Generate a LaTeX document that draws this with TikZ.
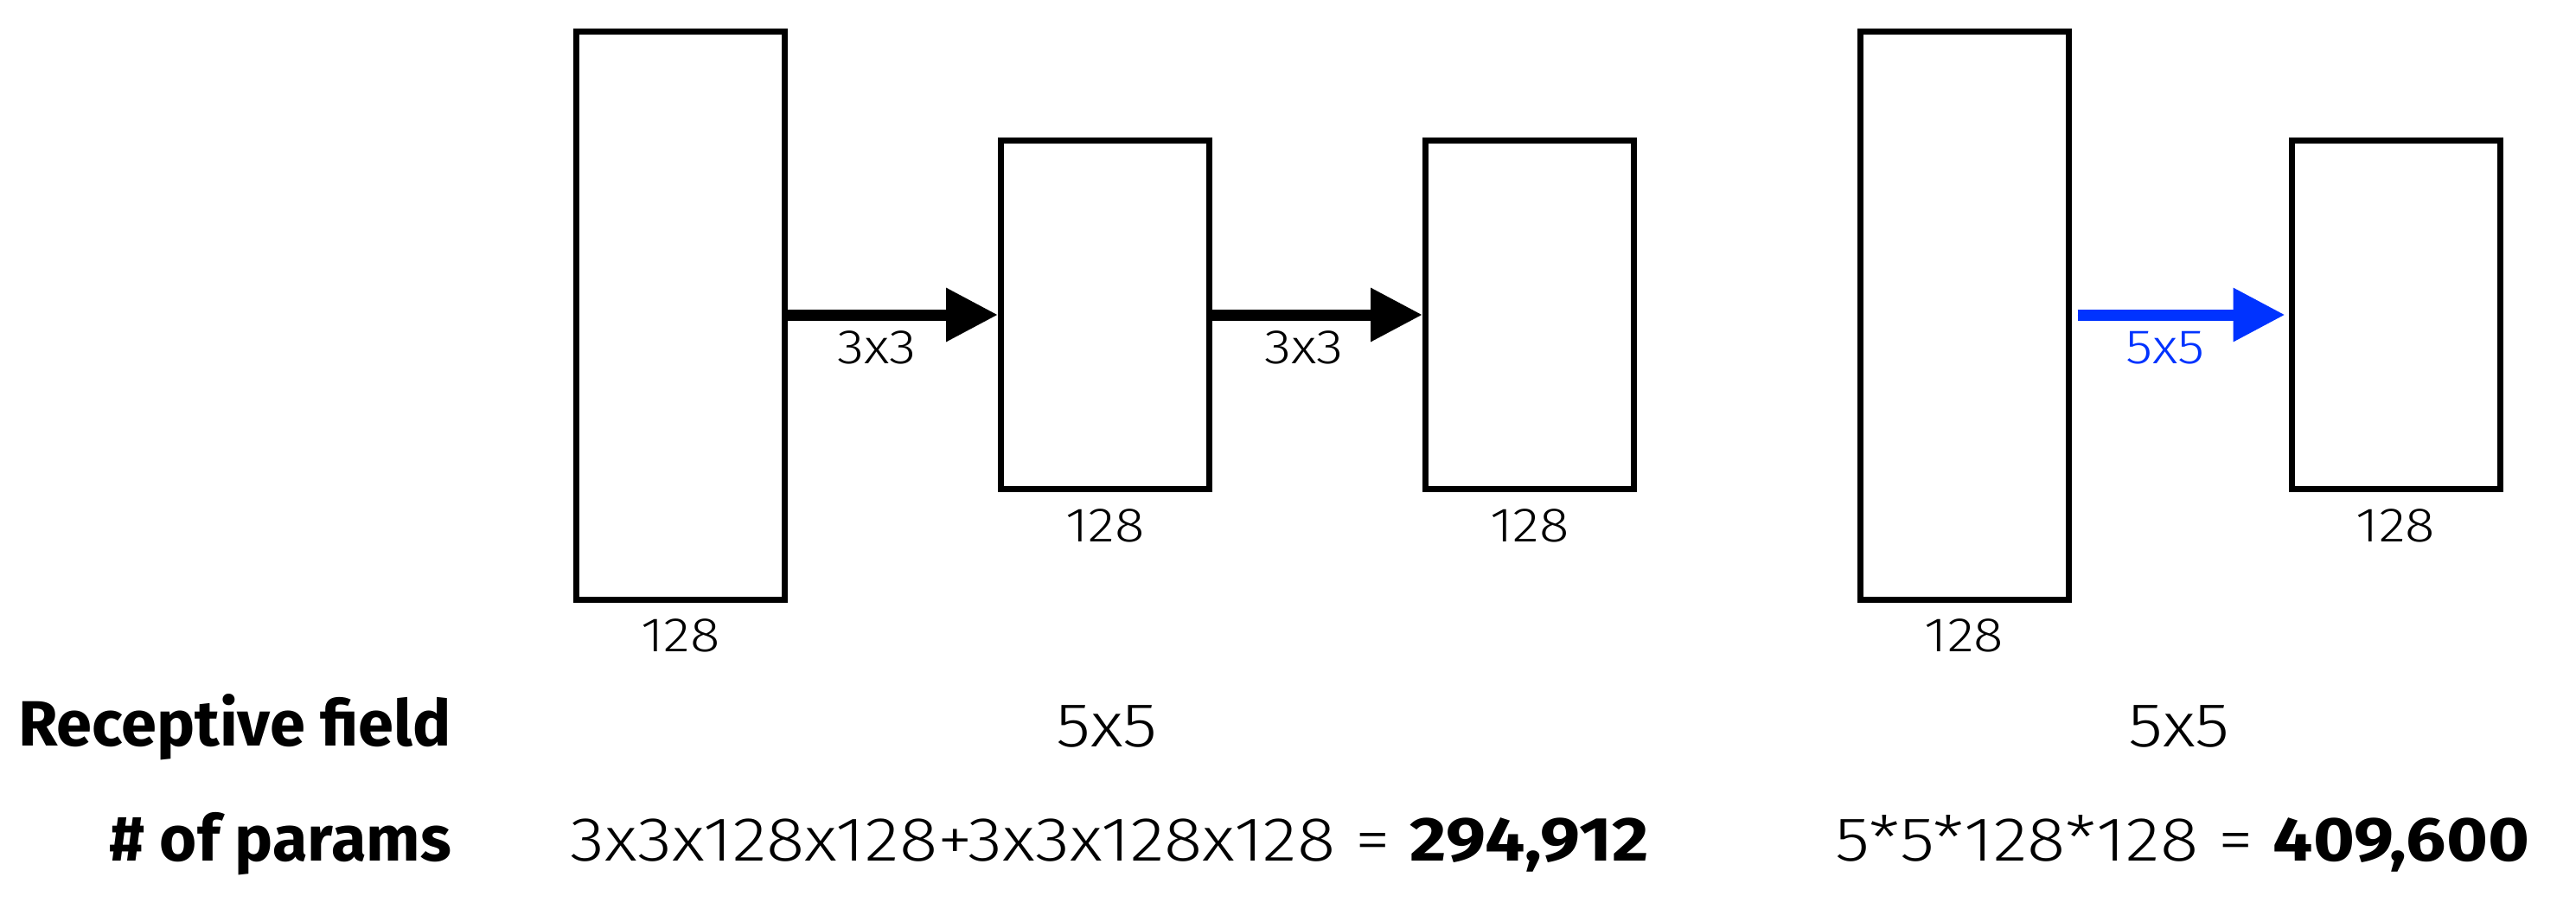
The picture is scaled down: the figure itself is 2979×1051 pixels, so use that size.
\documentclass[tikz,border=0pt]{standalone}
\usepackage{fontspec}
\setmainfont{Fira Sans}[UprightFont=* Light, BoldFont=* Bold, FakeStretch=1.14]
\newfontfamily\headfont{Fira Sans Bold}
\usetikzlibrary{arrows.meta}
\definecolor{arrowblue}{HTML}{0033FF}
\begin{document}
\begin{tikzpicture}[x=1pt,y=-1pt,
  layer/.style={draw=black, line width=7pt, fill=white, inner sep=0pt, minimum width=241pt},
  tall/.style={layer, minimum height=657pt},
  short/.style={layer, minimum height=403pt},
  conv/.style={line width=13pt, -{Triangle[length=60pt,width=59pt]}},
  lbl/.style={inner sep=0pt, anchor=base, font=\fontsize{56}{64}\selectfont},
  big/.style={inner sep=0pt, anchor=base, font=\fontsize{72}{84}\selectfont},
  head/.style={inner sep=0pt, anchor=base east, font=\fontsize{74}{88}\selectfont\headfont}]
\useasboundingbox (0,0) rectangle (2979,1051);
\fill[white] (0,0) rectangle (2979,1051);
% left network
\node[tall]  (b1) at (787,365) {};
\node[short] (b2) at (1278,364) {};
\node[short] (b3) at (1769,364) {};
% right network
\node[tall]  (b4) at (2271.5,365) {};
\node[short] (b5) at (2770.5,364) {};
% connectors
\draw[conv] (b1.east |- b2.west) -- (b2.west);
\draw[conv] (b2.east) -- (b3.west);
\draw[conv, draw=arrowblue, fill=arrowblue, shorten <=7pt, shorten >=4pt] (b4.east |- b5.west) -- (b5.west);
% connector labels
\node[lbl] (l1) at (1014,420) {3x3};
\node[lbl] (l2) at (1508,420) {3x3};
\node[lbl, text=arrowblue] (l3) at (2504,420) {5x5};
% layer sizes
\node[lbl] (s1) at (787,753) {128};
\node[lbl] (s2) at (1278,626) {128};
\node[lbl] (s3) at (1769,626) {128};
\node[lbl] (s4) at (2271.5,753) {128};
\node[lbl] (s5) at (2770.5,626) {128};
% table
\node[head] (rf) at (522,862) {Receptive field};
\node[head] (np) at (522,995) {\# of params};
\node[big] (rf1) at (1280,863) {5x5};
\node[big] (rf2) at (2520,863) {5x5};
\node[big] (np1) at (1283,995) {3x3x128x128+3x3x128x128 = \textbf{294,912}};
\node[big] (np2) at (2524,995) {5*5*128*128 = \textbf{409,600}};
\end{tikzpicture}
\end{document}
